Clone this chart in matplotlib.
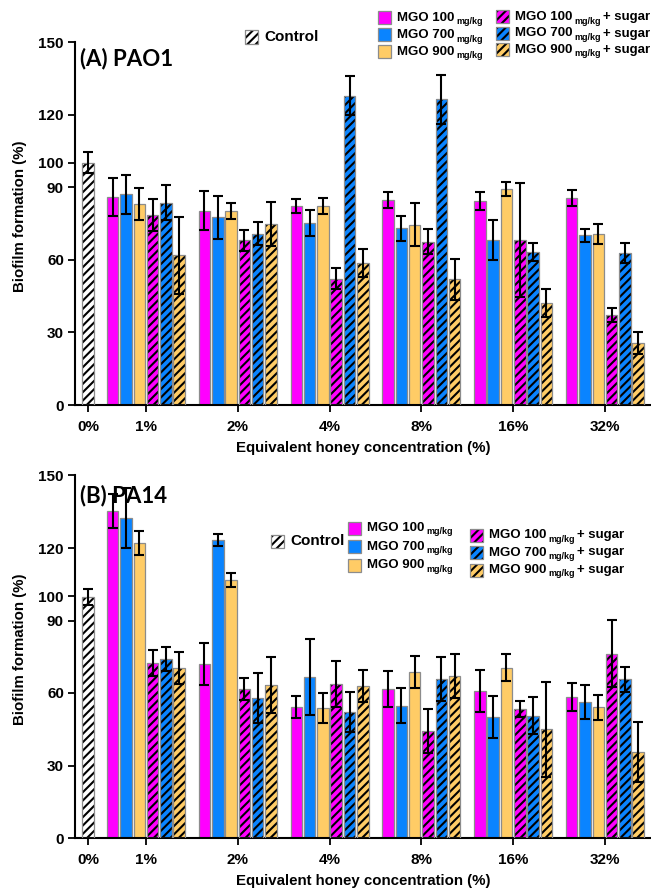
import numpy as np
import matplotlib.pyplot as plt
from matplotlib.patches import Rectangle

plt.rcParams['font.family'] = ['Liberation Sans', 'DejaVu Sans']
plt.rcParams['font.weight'] = 'bold'
plt.rcParams['axes.labelweight'] = 'bold'
plt.rcParams['hatch.linewidth'] = 1.5

W, H = 651, 896

# categories
concentrations = ['1%', '2%', '4%', '8%', '16%', '32%']
series_names = ['MGO 100', 'MGO 700', 'MGO 900', 'MGO 100', 'MGO 700', 'MGO 900']
series_unit = 'mg/kg'
series_suffix = ['', '', '', '+ sugar', '+ sugar', '+ sugar']
series_colors = ['#FF00FF', '#0A84FF', '#FFCC66', '#FF00FF', '#0A84FF', '#FFCC66']
series_hatch = [None, None, None, '////', '////', '////']

# (A) PAO1
pao1_control = 100.1
pao1_control_err = 4.3
pao1_mgo100 = [86.1, 80.3, 82.2, 84.7, 84.2, 85.5]
pao1_mgo100_err = [7.8, 8.1, 2.8, 3.2, 3.7, 3.3]
pao1_mgo700 = [87.0, 77.5, 75.1, 73.0, 68.2, 70.1]
pao1_mgo700_err = [8.0, 8.9, 5.4, 5.2, 8.3, 2.8]
pao1_mgo900 = [83.1, 80.0, 82.2, 74.4, 89.1, 70.7]
pao1_mgo900_err = [6.6, 3.3, 3.2, 8.9, 2.9, 4.1]
pao1_mgo100_sugar = [78.7, 68.0, 52.2, 67.5, 68.2, 37.2]
pao1_mgo100_sugar_err = [6.6, 4.5, 4.3, 5.2, 23.7, 3.0]
pao1_mgo700_sugar = [83.6, 70.8, 127.8, 126.4, 63.1, 62.7]
pao1_mgo700_sugar_err = [7.2, 4.8, 8.1, 10.1, 3.8, 4.1]
pao1_mgo900_sugar = [61.8, 74.7, 58.5, 51.9, 42.0, 25.5]
pao1_mgo900_sugar_err = [15.9, 9.0, 5.8, 8.4, 5.8, 4.5]

# (B) PA14
pa14_control = 99.7
pa14_control_err = 3.3
pa14_mgo100 = [135.2, 72.1, 54.2, 61.7, 60.8, 58.3]
pa14_mgo100_err = [7.0, 8.6, 4.6, 7.5, 8.8, 5.8]
pa14_mgo700 = [132.4, 123.3, 66.5, 54.8, 50.1, 56.3]
pa14_mgo700_err = [12.5, 2.6, 15.7, 7.3, 8.7, 7.0]
pa14_mgo900 = [122.1, 106.6, 53.9, 68.7, 70.5, 54.1]
pa14_mgo900_err = [4.8, 2.9, 6.2, 6.6, 5.5, 5.2]
pa14_mgo100_sugar = [72.4, 61.7, 63.7, 44.3, 53.2, 76.3]
pa14_mgo100_sugar_err = [5.2, 4.5, 9.4, 9.1, 3.3, 14.0]
pa14_mgo700_sugar = [74.1, 57.9, 52.0, 65.8, 50.6, 65.7]
pa14_mgo700_sugar_err = [5.0, 10.3, 8.3, 9.2, 7.7, 5.2]
pa14_mgo900_sugar = [70.3, 63.2, 62.9, 67.0, 45.0, 35.6]
pa14_mgo900_sugar_err = [6.5, 11.6, 6.8, 9.0, 19.6, 12.5]

yticks = [0, 30, 60, 90, 100, 120, 150]

group_x = np.arange(1, len(concentrations) + 1)
control_x = 0.37
step = 0.145
bar_w = 0.125


def draw_bar(ax, x, h, color, hatch):
    if hatch:
        ax.bar(x, h, bar_w, color=color, hatch=hatch, edgecolor='black', linewidth=0, zorder=2)
        ax.bar(x, h, bar_w, fill=False, edgecolor='#8c8c8c', linewidth=0.9, zorder=3)
    else:
        ax.bar(x, h, bar_w, color=color, edgecolor='#8c8c8c', linewidth=0.9, zorder=2)


def panel(ax, title, title_y, control, control_err, series, errors):
    draw_bar(ax, control_x, control, 'white', '////')
    ax.errorbar(control_x, control, yerr=control_err, fmt='none', ecolor='black',
                elinewidth=1.5, capsize=3.5, capthick=1.5, zorder=4)
    for i, (vals, errs) in enumerate(zip(series, errors)):
        xs = group_x + (i - 2.5) * step
        draw_bar(ax, xs, vals, series_colors[i], series_hatch[i])
        ax.errorbar(xs, vals, yerr=errs, fmt='none', ecolor='black',
                    elinewidth=1.5, capsize=3.5, capthick=1.5, zorder=4)
    ax.set_xlim(0.227, 6.502)
    ax.set_ylim(0, 150)
    ax.set_yticks(yticks)
    ax.set_xticks([control_x] + list(group_x))
    ax.set_xticklabels(['0%'] + concentrations)
    ax.tick_params(axis='both', direction='out', length=5, width=1.3, labelsize=11)
    ax.tick_params(axis='y', pad=3)
    ax.tick_params(axis='x', pad=6)
    for s in ['top', 'right']:
        ax.spines[s].set_visible(False)
    for s in ['left', 'bottom']:
        ax.spines[s].set_linewidth(1.5)
    ax.set_xlabel('Equivalent honey concentration (%)', fontsize=10.8, labelpad=5)
    ax.set_ylabel('Biofilm formation (%)', fontsize=10.8)
    ax.yaxis.set_label_coords(-0.083, 0.52)
    ax.text(0.009, title_y, title, transform=ax.transAxes, fontsize=16,
            fontweight='bold', family=['Lato', 'DejaVu Sans'], va='center', ha='left')


def legend_entry(fig, renderer, x, y, parts, face, hatch):
    fx, fy = x / W, 1 - y / H
    if hatch:
        fig.patches.append(Rectangle((fx, fy - 6.5 / H), 13 / W, 13 / H, transform=fig.transFigure,
                                     facecolor=face, hatch=hatch, edgecolor='black', linewidth=0))
    fig.patches.append(Rectangle((fx, fy - 6.5 / H), 13 / W, 13 / H, transform=fig.transFigure,
                                 facecolor=face if not hatch else 'none', edgecolor='#8c8c8c',
                                 linewidth=0.9))
    cx = x + 19
    for text, size, dy in parts:
        if not text:
            continue
        t = fig.text(cx / W, 1 - (y + dy) / H, text, va='center', ha='left', fontsize=size)
        cx += t.get_window_extent(renderer).width + 2


def series_parts(i):
    return [(series_names[i], 9.5, 0), (series_unit, 6.5, 4), (series_suffix[i], 9.5, 0)]


fig = plt.figure(figsize=(W / 100, H / 100), dpi=100)
renderer = fig.canvas.get_renderer()
ax1 = fig.add_axes([75 / W, 1 - 405 / H, 576 / W, 363 / H])
ax2 = fig.add_axes([75 / W, 1 - 838 / H, 576 / W, 362.5 / H])

panel(ax1, '(A) PAO1', 0.955, pao1_control, pao1_control_err,
      [pao1_mgo100, pao1_mgo700, pao1_mgo900, pao1_mgo100_sugar, pao1_mgo700_sugar, pao1_mgo900_sugar],
      [pao1_mgo100_err, pao1_mgo700_err, pao1_mgo900_err,
       pao1_mgo100_sugar_err, pao1_mgo700_sugar_err, pao1_mgo900_sugar_err])
panel(ax2, '(B) PA14', 0.946, pa14_control, pa14_control_err,
      [pa14_mgo100, pa14_mgo700, pa14_mgo900, pa14_mgo100_sugar, pa14_mgo700_sugar, pa14_mgo900_sugar],
      [pa14_mgo100_err, pa14_mgo700_err, pa14_mgo900_err,
       pa14_mgo100_sugar_err, pa14_mgo700_sugar_err, pa14_mgo900_sugar_err])

# legends (A)
legend_entry(fig, renderer, 245, 37, [('Control', 11, 0)], 'white', '////')
for i in range(3):
    legend_entry(fig, renderer, 378, 18 + 17 * i, series_parts(i), series_colors[i], series_hatch[i])
    legend_entry(fig, renderer, 496, 17 + 16.5 * i, series_parts(i + 3),
                 series_colors[i + 3], series_hatch[i + 3])

# legends (B)
legend_entry(fig, renderer, 271, 541, [('Control', 11, 0)], 'white', '////')
for i in range(3):
    legend_entry(fig, renderer, 348, 528 + 18.5 * i, series_parts(i), series_colors[i], series_hatch[i])
    legend_entry(fig, renderer, 470, 535 + 17.5 * i, series_parts(i + 3),
                 series_colors[i + 3], series_hatch[i + 3])

plt.savefig('out.png', dpi=100)
plt.close()
